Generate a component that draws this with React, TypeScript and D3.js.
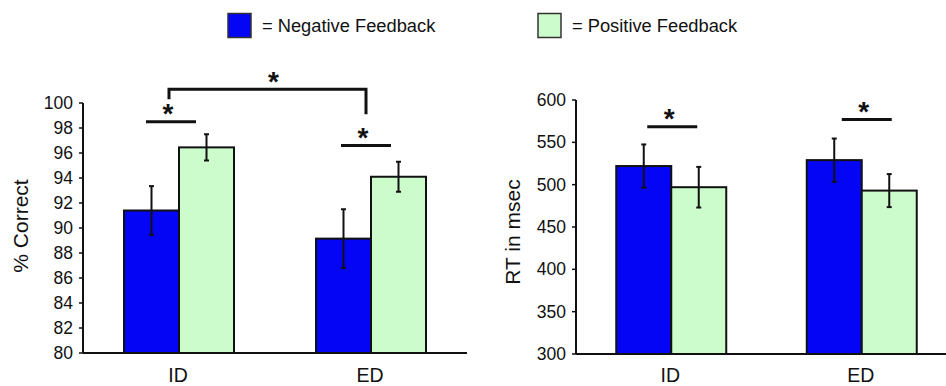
import React from 'react';
import * as d3 from 'd3';

const categories = ['ID', 'ED'];
const seriesNames = ['Negative Feedback', 'Positive Feedback'];
const seriesColors = ['#0505f5', '#ccfccc'];

const accuracyNeg = [91.4, 89.15];
const accuracyPos = [96.45, 94.1];
const accuracyNegErr = [1.95, 2.35];
const accuracyPosErr = [1.05, 1.2];
const accuracyTicks = [80, 82, 84, 86, 88, 90, 92, 94, 96, 98, 100];

const rtNeg = [522, 529];
const rtPos = [497, 493];
const rtNegErr = [25.5, 25.5];
const rtPosErr = [24, 19.5];
const rtTicks = [300, 350, 400, 450, 500, 550, 600];

// significance lines: category, level (data units), x offset of line centre from group centre
const accuracySig = [
  { cat: 'ID', level: 98.5, shift: -8 },
  { cat: 'ED', level: 96.6, shift: -5 },
];
const accuracyBracket = { from: 'ID', to: 'ED', level: 101.1, leftEnd: 100.3, rightEnd: 99.1 };
const rtSig = [
  { cat: 'ID', level: 568.5, shift: 1 },
  { cat: 'ED', level: 577, shift: 5 },
];

const FONT = '"Liberation Sans", Arial, Helvetica, sans-serif';
const INK = '#111';
const STAR = 28;

type PanelProps = {
  x0: number; x1: number; yTop: number; yBottom: number;
  domain: [number, number]; ticks: number[];
  neg: number[]; pos: number[]; negErr: number[]; posErr: number[];
  title: string; titleX: number; titleY: number;
  sig: { cat: string; level: number; shift: number }[];
  bracket?: typeof accuracyBracket;
};

function Star({ x, cy }: { x: number; cy: number }) {
  return (
    <text x={x} y={cy + 0.56 * STAR} textAnchor="middle" fontSize={STAR} fontWeight="bold"
      fontFamily={FONT} fill={INK}>*</text>
  );
}

function Panel(p: PanelProps) {
  const y = d3.scaleLinear().domain(p.domain).range([p.yBottom, p.yTop]);
  const x = d3.scalePoint<string>().domain(categories).range([p.x0, p.x1]).padding(0.5);
  const inner = d3.scaleBand<string>().domain(seriesNames).range([-55, 55]);
  const values = [p.neg, p.pos];
  const errs = [p.negErr, p.posErr];
  const sigHalf = 25;
  return (
    <g>
      {categories.map((c, ci) =>
        seriesNames.map((s, si) => {
          const v = values[si][ci];
          const bx = (x(c) as number) + (inner(s) as number);
          const bw = inner.bandwidth();
          const cx = bx + bw / 2;
          const e = errs[si][ci];
          return (
            <g key={c + s}>
              <rect x={bx} y={y(v)} width={bw} height={y(p.domain[0]) - y(v)}
                fill={seriesColors[si]} stroke={INK} strokeWidth={2} />
              <line x1={cx} x2={cx} y1={y(v + e)} y2={y(v - e)} stroke={INK} strokeWidth={2} />
              <line x1={cx - 2.5} x2={cx + 2.5} y1={y(v + e)} y2={y(v + e)} stroke={INK} strokeWidth={2} />
              <line x1={cx - 2.5} x2={cx + 2.5} y1={y(v - e)} y2={y(v - e)} stroke={INK} strokeWidth={2} />
            </g>
          );
        })
      )}
      <line x1={p.x0} x2={p.x0} y1={y(p.domain[1])} y2={y(p.domain[0])} stroke={INK} strokeWidth={2} />
      <line x1={p.x0} x2={p.x1} y1={y(p.domain[0])} y2={y(p.domain[0])} stroke={INK} strokeWidth={2} />
      {p.ticks.map(t => (
        <g key={t}>
          <line x1={p.x0 - 4} x2={p.x0} y1={y(t)} y2={y(t)} stroke={INK} strokeWidth={1.5} />
          <text x={p.x0 - 10} y={y(t)} dy="0.35em" textAnchor="end" fontSize={17.5}
            fontFamily={FONT} fill={INK}>{t}</text>
        </g>
      ))}
      {categories.map(c => (
        <text key={c} x={(x(c) as number) - 1} y={381.5} textAnchor="middle" fontSize={19.5}
          fontFamily={FONT} fill={INK}>{c}</text>
      ))}
      <text transform={`translate(${p.titleX},${p.titleY}) rotate(-90)`} textAnchor="middle"
        dy="0.35em" fontSize={21} fontFamily={FONT} fill={INK}>{p.title}</text>
      {p.sig.map(sg => {
        const cx = (x(sg.cat) as number) + sg.shift;
        const ly = y(sg.level);
        return (
          <g key={sg.cat}>
            <line x1={cx - sigHalf} x2={cx + sigHalf} y1={ly} y2={ly} stroke={INK} strokeWidth={3} />
            <Star x={cx - 3} cy={ly - 14} />
          </g>
        );
      })}
      {p.bracket && (() => {
        const b = p.bracket!;
        const lx = (x(b.from) as number) - 10;
        const rx = (x(b.to) as number) - 5;
        const by = y(b.level);
        return (
          <g>
            <path d={`M${lx},${y(b.leftEnd)}V${by}H${rx}V${y(b.rightEnd)}`} fill="none"
              stroke={INK} strokeWidth={3} />
            <Star x={(lx + rx) / 2 + 6} cy={by - 13.5} />
          </g>
        );
      })()}
    </g>
  );
}

export default function App() {
  const legendItems = [
    { x: 228, label: '= ' + seriesNames[0], color: seriesColors[0] },
    { x: 538, label: '= ' + seriesNames[1], color: seriesColors[1] },
  ];
  return (
    <svg width={946} height={386} style={{ position: 'absolute', left: 0, top: 0, background: '#fff' }}>
      <rect width={946} height={386} fill="#fff" />
      {legendItems.map(l => (
        <g key={l.label}>
          <rect x={l.x} y={13.5} width={23} height={24} fill={l.color} stroke="#333" strokeWidth={1.5} />
          <text x={l.x + 34} y={26} dy="0.35em" fontSize={18.3} fontFamily={FONT} fill={INK}>{l.label}</text>
        </g>
      ))}
      <Panel x0={83} x1={467} yTop={103} yBottom={353} domain={[80, 100]} ticks={accuracyTicks}
        neg={accuracyNeg} pos={accuracyPos} negErr={accuracyNegErr} posErr={accuracyPosErr}
        title="% Correct" titleX={21} titleY={226} sig={accuracySig} bracket={accuracyBracket} />
      <Panel x0={576} x1={957} yTop={100} yBottom={354} domain={[300, 600]} ticks={rtTicks}
        neg={rtNeg} pos={rtPos} negErr={rtNegErr} posErr={rtPosErr}
        title="RT in msec" titleX={513} titleY={232} sig={rtSig} />
    </svg>
  );
}
